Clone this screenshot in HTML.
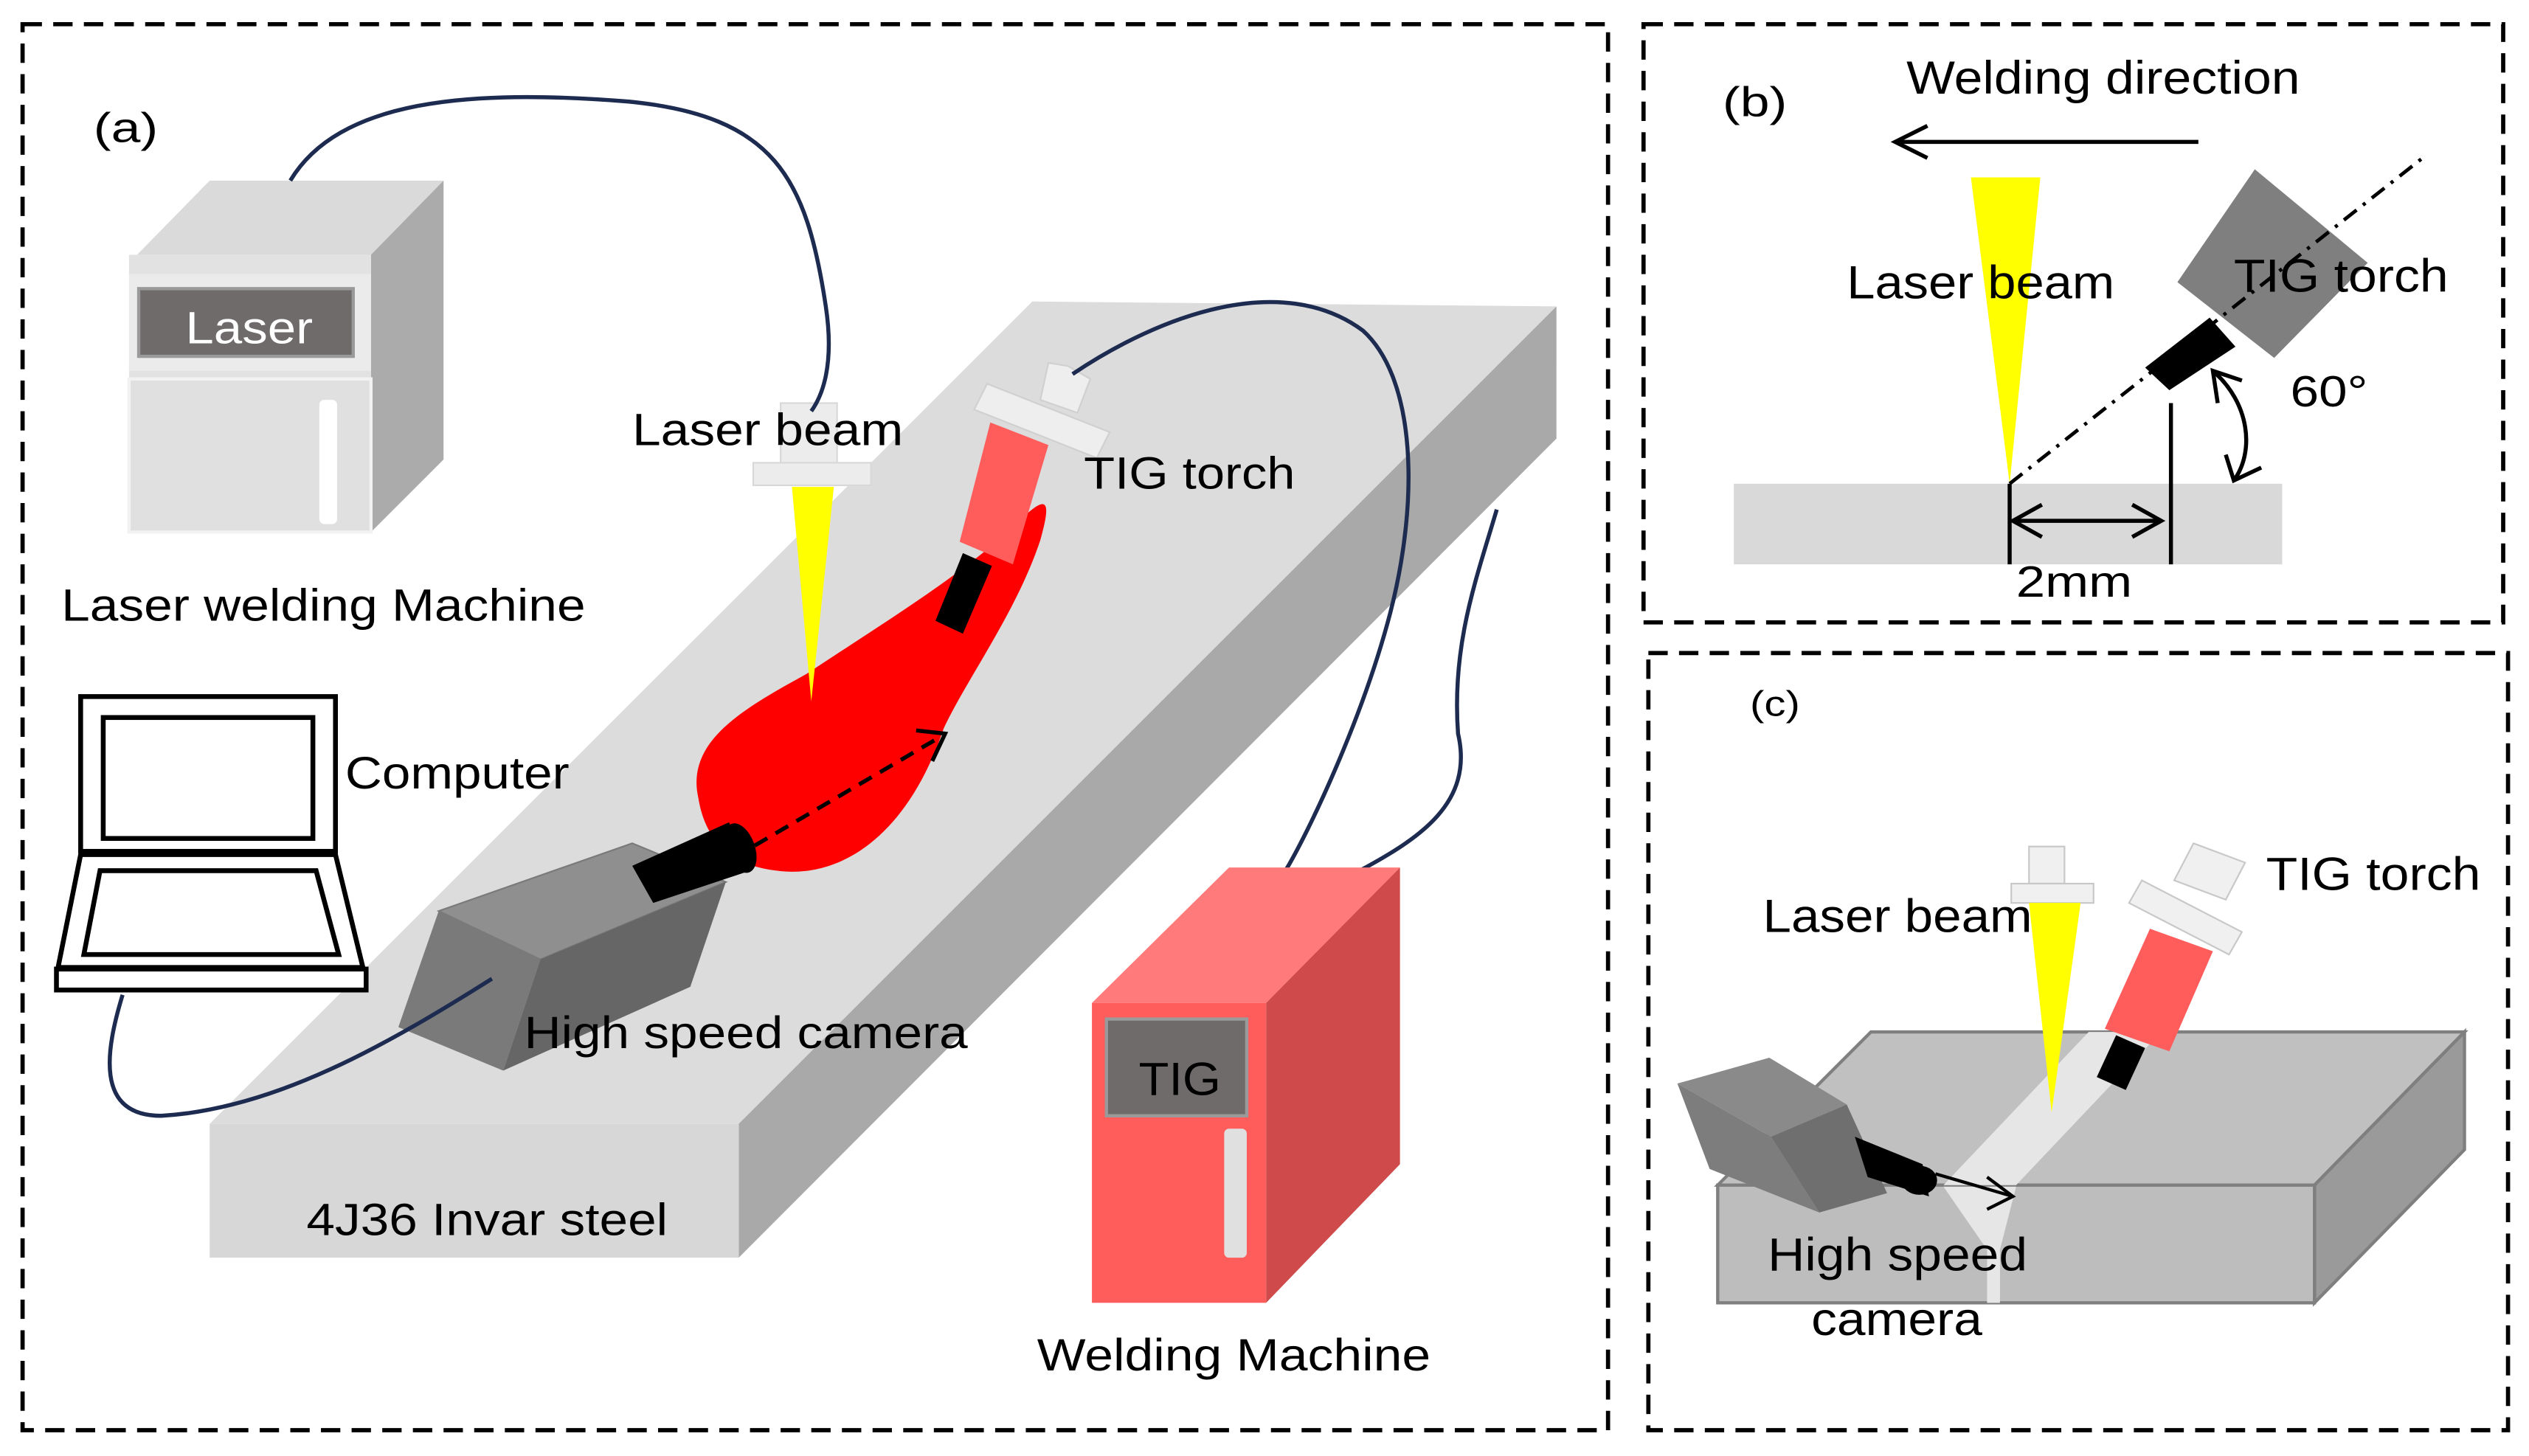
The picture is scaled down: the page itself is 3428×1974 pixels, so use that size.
<!DOCTYPE html>
<html><head><meta charset="utf-8"><style>
html,body{margin:0;padding:0;background:#fff;}
svg{display:block;}
text{font-family:"Liberation Sans",sans-serif;fill:#000;}
</style></head><body>
<svg width="3428" height="1974" viewBox="0 0 1568 903" preserveAspectRatio="none" xmlns="http://www.w3.org/2000/svg">
<rect width="1568" height="903" fill="#fff"/>
<g fill="none" stroke="#000" stroke-width="2.6" stroke-dasharray="12 7">
<rect x="14" y="15" width="983" height="872"/>
<rect x="1019" y="15" width="533" height="371"/>
<rect x="1022" y="405" width="533" height="482"/>
</g>

<!-- ===== Panel A ===== -->
<polygon points="130,697 640,187 965,190 458,697" fill="#dcdcdc"/>
<polygon points="458,697 965,190 965,272 458,780" fill="#a9a9a9"/>
<rect x="130" y="697" width="328" height="83" fill="#d7d7d7"/>

<polygon points="85,158 130,112 275,112 230,158" fill="#dadada"/>
<polygon points="230,158 275,112 275,285 230,330" fill="#ababab"/>
<rect x="80" y="158" width="150" height="172" fill="#e2e2e2"/>
<rect x="80" y="170" width="150" height="60" fill="#ebebeb"/>
<rect x="86" y="179" width="133" height="42" fill="#6f6b6b" stroke="#9a9a9a" stroke-width="2"/>
<text x="115" y="213" font-size="28" textLength="79" lengthAdjust="spacingAndGlyphs" style="fill:#fff">Laser</text>
<rect x="80" y="235" width="150" height="95" fill="#e0e0e0" stroke="#f2f2f2" stroke-width="2"/>
<rect x="198" y="248" width="11" height="77" rx="3" fill="#fff"/>

<rect x="50" y="432" width="158" height="96" fill="#fff" stroke="#000" stroke-width="3"/>
<rect x="64" y="445" width="130" height="75" fill="#fff" stroke="#000" stroke-width="3"/>
<polygon points="50,530 208,530 225,600 36,600" fill="#fff" stroke="#000" stroke-width="3"/>
<polygon points="62,540 196,540 210,592 52,592" fill="#fff" stroke="#000" stroke-width="3"/>
<rect x="35" y="601" width="192" height="13" fill="#fff" stroke="#000" stroke-width="3"/>

<path d="M433,495 C425,460 460,440 500,418 C545,388 595,358 630,325 C650,305 652,310 645,335 C630,380 600,420 585,452 C562,520 520,545 482,540 C452,537 437,520 433,495 Z" fill="#ff0000"/>

<rect x="484" y="250" width="35" height="38" fill="#ececec" stroke="#d8d8d8"/>
<rect x="467" y="287" width="73" height="14" fill="#ececec" stroke="#d8d8d8"/>
<polygon points="491,302 517,302 503,435" fill="#ffff00"/>

<polygon points="650,225 662,227 676,235 668,256 645,248" fill="#eeeeee" stroke="#d0d0d0"/>
<polygon points="604,254 612,238 688,268 680,284" fill="#eeeeee" stroke="#d0d0d0"/>
<polygon points="614,262 650,276 628,350 595,336" fill="#ff5c5c"/>
<polygon points="597,343 615,351 597,393 580,385" fill="#000"/>

<line x1="455" y1="532" x2="583" y2="457" stroke="#000" stroke-width="2.5" stroke-dasharray="9 6"/>
<polyline points="568,453 586,455 578,472" fill="none" stroke="#000" stroke-width="2.5"/>

<polygon points="272,565 392,523 450,547 335,595" fill="#8f8f8f" stroke="#7a7a7a"/>
<polygon points="272,565 335,595 312,664 247,637" fill="#7a7a7a"/>
<polygon points="335,595 450,547 428,612 312,664" fill="#666"/>
<polygon points="392,537 452,510 465,540 405,560" fill="#000"/>
<ellipse cx="459" cy="526" rx="9" ry="16" transform="rotate(-20 459 526)" fill="#000"/>

<g fill="none" stroke="#1c2b4f" stroke-width="2.5">
<path d="M180,112 C210,62 290,55 390,63 C480,72 500,110 512,190 C518,230 508,248 503,255"/>
<path d="M665,232 C720,195 795,168 845,205 C878,235 880,310 862,380 C845,445 812,515 797,540"/>
<path d="M928,316 C915,360 900,400 904,455 C914,498 880,520 843,540"/>
<path d="M76,617 C66,650 58,692 100,692 C170,688 240,648 305,607"/>
</g>

<polygon points="677,622 762,538 868,538 785,622" fill="#ff7b7b"/>
<polygon points="785,622 868,538 868,722 785,808" fill="#cf4a4a"/>
<rect x="677" y="622" width="108" height="186" fill="#ff5c5c"/>
<rect x="686" y="632" width="87" height="60" fill="#6f6b6b" stroke="#9a9a9a" stroke-width="2"/>
<text x="706" y="679" font-size="29" textLength="51" lengthAdjust="spacingAndGlyphs">TIG</text>
<rect x="759" y="700" width="14" height="80" rx="3" fill="#e0e0e0"/>

<g font-size="28">
<text x="58" y="88" font-size="26" textLength="40" lengthAdjust="spacingAndGlyphs">(a)</text>
<text x="38" y="385" textLength="325" lengthAdjust="spacingAndGlyphs">Laser welding Machine</text>
<text x="392" y="276" textLength="168" lengthAdjust="spacingAndGlyphs">Laser beam</text>
<text x="672" y="303" textLength="131" lengthAdjust="spacingAndGlyphs">TIG torch</text>
<text x="214" y="489" textLength="139" lengthAdjust="spacingAndGlyphs">Computer</text>
<text x="325" y="650" textLength="275" lengthAdjust="spacingAndGlyphs">High speed camera</text>
<text x="190" y="766" textLength="224" lengthAdjust="spacingAndGlyphs">4J36 Invar steel</text>
<text x="643" y="850" textLength="244" lengthAdjust="spacingAndGlyphs">Welding Machine</text>
</g>

<!-- ===== Panel B ===== -->
<text x="1068" y="72" font-size="26" textLength="40" lengthAdjust="spacingAndGlyphs">(b)</text>
<text x="1182" y="58" font-size="29" textLength="244" lengthAdjust="spacingAndGlyphs">Welding direction</text>
<line x1="1363" y1="88" x2="1175" y2="88" stroke="#000" stroke-width="2.5"/>
<polyline points="1195,78 1175,88 1195,98" fill="none" stroke="#000" stroke-width="2.5"/>
<rect x="1075" y="300" width="340" height="50" fill="#d9d9d9"/>
<polygon points="1222,110 1265,110 1246,300" fill="#ffff00"/>
<text x="1145" y="185" font-size="29" textLength="166" lengthAdjust="spacingAndGlyphs">Laser beam</text>
<polygon points="1350,175 1398,105 1468,163 1410,222" fill="#7f7f7f"/>
<text x="1385" y="181" font-size="29" textLength="133" lengthAdjust="spacingAndGlyphs">TIG torch</text>
<line x1="1246" y1="300" x2="1502" y2="98" stroke="#000" stroke-width="2.2" stroke-dasharray="10 5 2 5"/>
<polygon points="1330,228 1370,197 1386,215 1345,242" fill="#000"/>
<line x1="1346" y1="250" x2="1346" y2="350" stroke="#000" stroke-width="2.5"/>
<line x1="1246" y1="300" x2="1246" y2="350" stroke="#000" stroke-width="2.5"/>
<line x1="1248" y1="323" x2="1340" y2="323" stroke="#000" stroke-width="2.5"/>
<polyline points="1266,313 1248,323 1266,333" fill="none" stroke="#000" stroke-width="2.5"/>
<polyline points="1322,313 1340,323 1322,333" fill="none" stroke="#000" stroke-width="2.5"/>
<path d="M1372,230 C1395,250 1398,280 1385,298" fill="none" stroke="#000" stroke-width="2.5"/>
<polyline points="1375,250 1372,230 1390,236" fill="none" stroke="#000" stroke-width="2.5"/>
<polyline points="1380,282 1385,298 1402,290" fill="none" stroke="#000" stroke-width="2.5"/>
<text x="1420" y="252" font-size="27" textLength="48" lengthAdjust="spacingAndGlyphs">60°</text>
<text x="1250" y="370" font-size="27" textLength="72" lengthAdjust="spacingAndGlyphs">2mm</text>

<!-- ===== Panel C ===== -->
<text x="1085" y="444" font-size="22" textLength="31" lengthAdjust="spacingAndGlyphs">(c)</text>
<polygon points="1065,735 1160,640 1528,640 1435,735" fill="#c0c0c0" stroke="#7f7f7f" stroke-width="2"/>
<polygon points="1435,735 1528,640 1528,713 1435,808" fill="#9a9a9a" stroke="#7f7f7f" stroke-width="2"/>
<rect x="1065" y="735" width="370" height="73" fill="#bdbdbd" stroke="#7f7f7f" stroke-width="2"/>
<polygon points="1205,735 1295,640 1340,640 1250,735" fill="#e6e6e6"/>
<polygon points="1205,736 1250,736 1240,775 1240,808 1232,808 1232,775" fill="#e6e6e6"/>
<rect x="1258" y="525" width="22" height="23" fill="#f0f0f0" stroke="#c8c8c8"/>
<rect x="1247" y="548" width="51" height="12" fill="#f0f0f0" stroke="#c8c8c8"/>
<polygon points="1258,560 1290,560 1272,690" fill="#ffff00"/>
<polygon points="1348,546 1360,523 1392,535 1380,558" fill="#f0f0f0" stroke="#c8c8c8"/>
<polygon points="1320,560 1328,546 1390,578 1382,592" fill="#f0f0f0" stroke="#c8c8c8"/>
<polygon points="1333,576 1372,590 1345,652 1305,638" fill="#ff5c5c"/>
<polygon points="1312,642 1330,650 1318,676 1300,668" fill="#000"/>
<polygon points="1040,672 1097,656 1145,685 1098,705" fill="#8a8a8a"/>
<polygon points="1098,705 1145,685 1170,740 1128,752" fill="#6f6f6f"/>
<polygon points="1040,672 1098,705 1128,752 1060,725" fill="#7d7d7d"/>
<polygon points="1150,705 1192,722 1196,742 1158,730" fill="#000"/>
<ellipse cx="1190" cy="732" rx="11" ry="9" fill="#000"/>
<line x1="1200" y1="728" x2="1248" y2="742" stroke="#000" stroke-width="2"/>
<polyline points="1232,730 1248,742 1232,750" fill="none" stroke="#000" stroke-width="2"/>
<g font-size="29">
<text x="1405" y="552" textLength="133" lengthAdjust="spacingAndGlyphs">TIG torch</text>
<text x="1093" y="578" textLength="167" lengthAdjust="spacingAndGlyphs">Laser beam</text>
<text x="1096" y="788" textLength="161" lengthAdjust="spacingAndGlyphs">High speed</text>
<text x="1123" y="828" textLength="106" lengthAdjust="spacingAndGlyphs">camera</text>
</g>
</svg>
</body></html>
